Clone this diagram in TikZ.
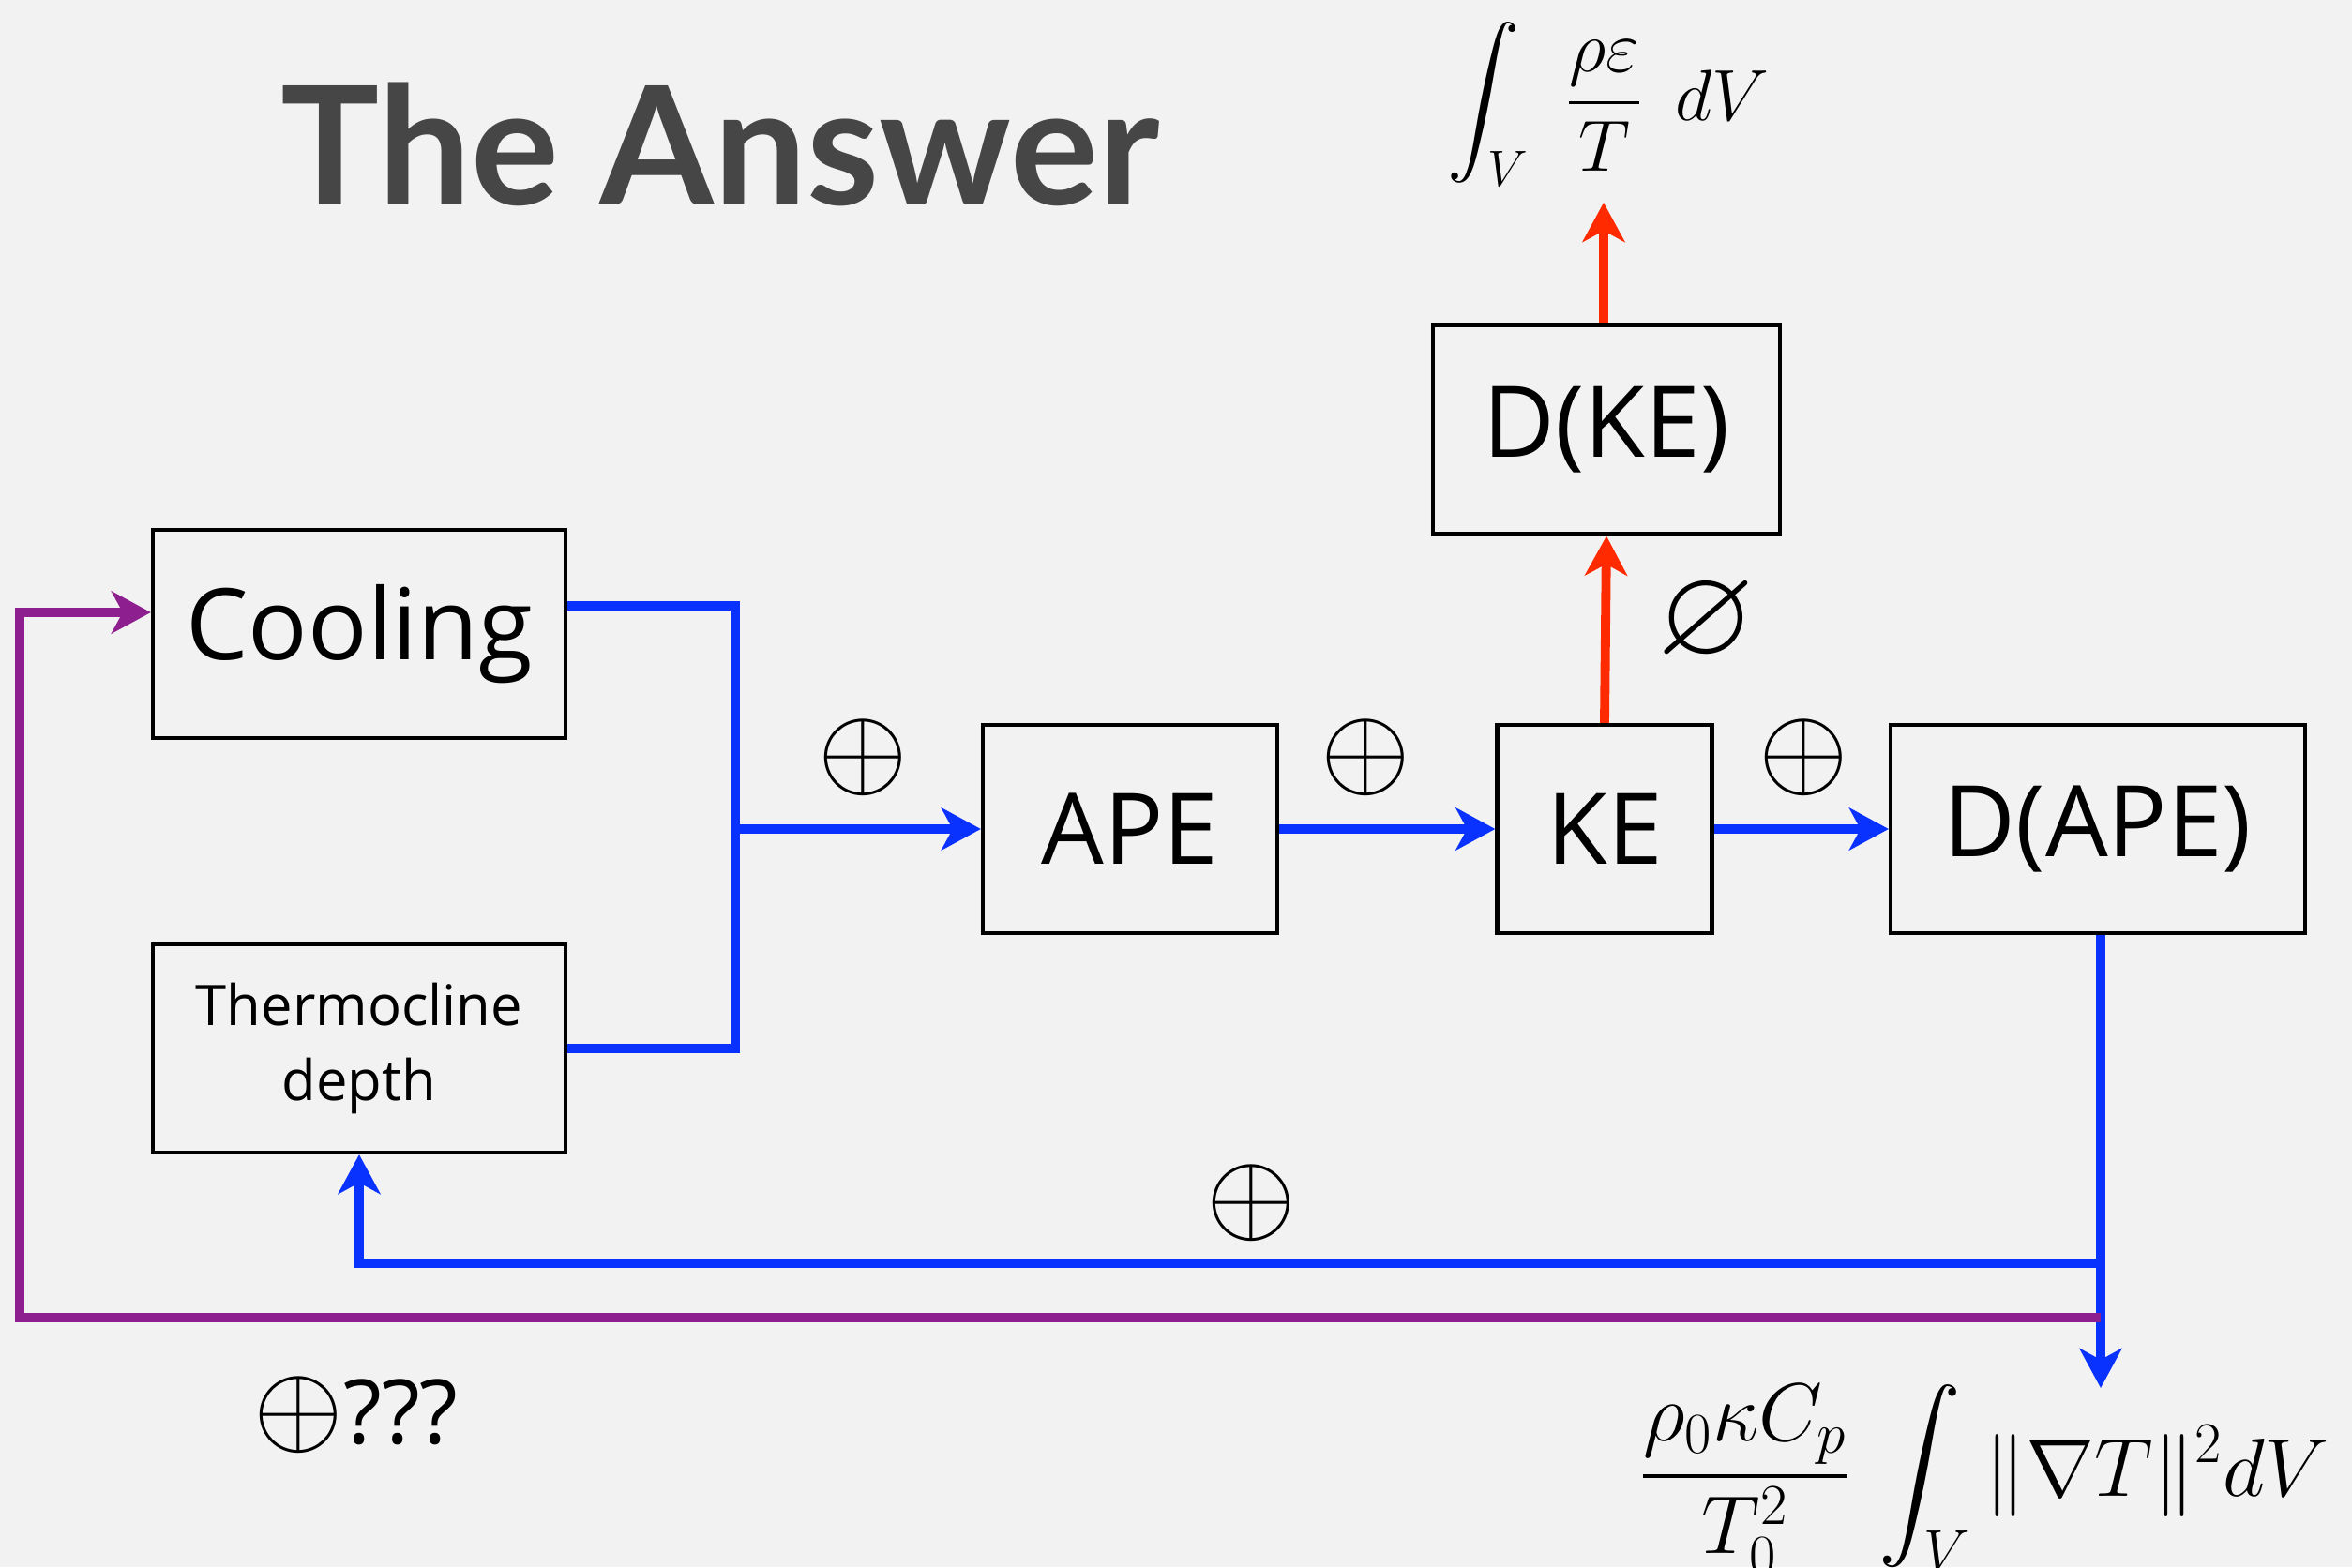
\RequirePackage{fix-cm}
\documentclass[tikz,border=0pt]{standalone}
\usepackage{amsmath,amssymb}
\usepackage{fontspec}
\usetikzlibrary{arrows.meta}
\newfontfamily\handfont{Open Sans}
\newfontfamily\titlefont{Lato}
\definecolor{paper}{HTML}{F2F2F2}
\definecolor{flowblue}{HTML}{0A32FF}
\definecolor{flowred}{HTML}{FF2A00}
\definecolor{loopviolet}{HTML}{8E1F8E}
\definecolor{titlegray}{HTML}{464646}

\begin{document}
\begin{tikzpicture}[
    block/.style={draw, line width=1.2pt, inner sep=0pt, minimum height=2.22cm,
      font=\handfont\fontsize{30}{36}\selectfont},
    flow/.style={flowblue, line width=2.8pt},
    heat/.style={flowred, line width=2.8pt},
    tip/.style={-{Stealth[length=4.2mm, width=4.5mm, inset=1.2mm]}},
    sign/.style={inner sep=0pt, font=\fontsize{35}{40}\selectfont}
  ]
    \fill[paper] (0,0) rectangle (25.08,16.71);
    \useasboundingbox (0,0) rectangle (25.08,16.71);
    \node[anchor=base, text=titlegray, font=\titlefont\bfseries\fontsize{50}{60}\selectfont] (title) at (7.68,14.52) {The Answer};
    \node[block, minimum width=4.40cm] (cooling) at (3.83,9.95) {Cooling};
    \node[block, minimum width=4.40cm, align=center, font=\handfont\fontsize{17}{23}\selectfont] (thermo) at (3.83,5.53) {Thermocline\\ depth};
    \node[block, minimum width=3.14cm] (ape) at (12.05,7.87) {APE};
    \node[block, minimum width=2.29cm] (ke) at (17.11,7.87) {KE};
    \node[block, minimum width=4.42cm] (dape) at (22.37,7.87) {D(APE)};
    \node[block, minimum width=3.70cm, minimum height=2.23cm] (dke) at (17.13,12.13) {D(KE)};
    \node[inner sep=0pt] (viscint) at (17.15,15.60) {\fontsize{22}{26}\selectfont$\displaystyle \int_V \,\,\frac{\rho\varepsilon}{T}\;\, dV$};
    \node[inner sep=0pt] (diffint) at (21.16,0.93) {\fontsize{25}{29}\selectfont$\displaystyle \frac{\rho_0\kappa C_p}{T_0^2}\,\int_V \|\nabla T\|^2 dV$};
    \coordinate (split) at (7.84,7.87);
    \coordinate (sink) at (22.40,1.91);
    \coordinate (fbk) at (22.40,3.24);
    \coordinate (loopstart) at (22.40,2.66);
    \coordinate (leftturn) at (0.21,10.18);
    \coordinate (visctip) at (17.10,14.55);
    \draw[flow] ([yshift=3mm]cooling.east) -| (split) |- (thermo.east);
    \draw[flow, tip] (split) -- (ape.west);
    \draw[flow, tip] (ape.east) -- (ke.west);
    \draw[flow, tip] (ke.east) -- (dape.west);
    \draw[flow, tip] (dape.south -| sink) -- (sink);
    \draw[flow, tip] (fbk) -| (thermo.south);
    \draw[heat, tip] (ke.north) -- (dke.south);
    \draw[heat, tip] (dke.north -| visctip) -- (visctip);
    \draw[loopviolet, line width=2.8pt, tip] (loopstart) -| (leftturn) -- (cooling.west |- leftturn);
    \node[sign] (gainape) at (9.20,8.63) {$\oplus$};
    \node[sign] (gainke) at (14.56,8.63) {$\oplus$};
    \node[sign] (gaindape) at (19.23,8.63) {$\oplus$};
    \node[sign] (gainthermo) at (13.34,3.88) {$\oplus$};
    \node[sign, font=\fontsize{38}{42}\selectfont] (nullke) at (18.19,10.07) {$\varnothing$};
    \node[sign, anchor=west] (gaincool) at (2.70,1.62) {$\oplus$\handfont\fontsize{27}{32}\selectfont ???};
\end{tikzpicture}
\end{document}
